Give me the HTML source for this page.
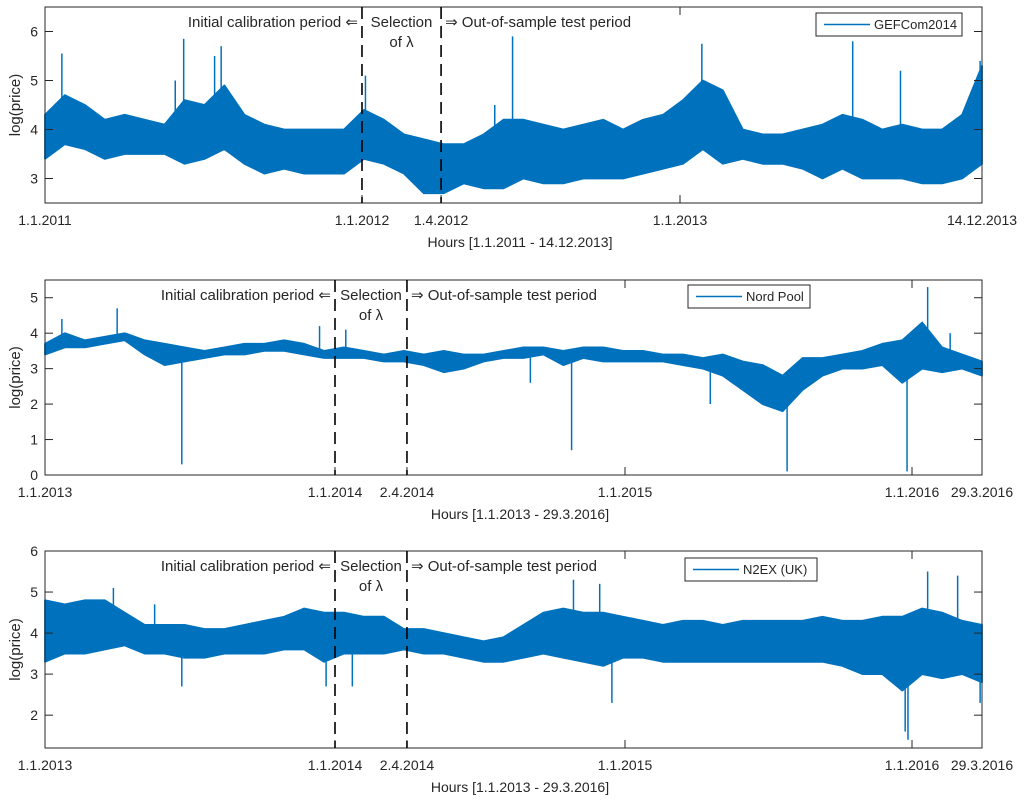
<!DOCTYPE html>
<html><head><meta charset="utf-8"><style>
body{margin:0;background:#fff;}
svg{display:block;font-family:"Liberation Sans",sans-serif;}
</style></head><body>
<svg id="c" width="1024" height="803"></svg>
<script>
// ---- data (bands sampled uniformly over each period, spikes at fraction of period) ----
const gefHi=[4.3,4.7,4.5,4.2,4.3,4.2,4.1,4.6,4.5,4.9,4.3,4.1,4.0,4.0,4.0,4.0,4.4,4.2,3.9,3.8,3.7,3.7,3.9,4.2,4.2,4.1,4.0,4.1,4.2,4.0,4.2,4.3,4.6,5.0,4.8,4.0,3.9,3.9,4.0,4.1,4.3,4.2,4.0,4.1,4.0,4.0,4.3,5.3];
const gefLo=[3.4,3.7,3.6,3.4,3.5,3.5,3.5,3.3,3.4,3.6,3.3,3.1,3.2,3.1,3.1,3.1,3.4,3.3,3.1,2.7,2.7,2.9,2.8,2.8,3.0,2.9,2.9,3.0,3.0,3.0,3.1,3.2,3.3,3.6,3.3,3.4,3.3,3.3,3.2,3.0,3.2,3.0,3.0,3.0,2.9,2.9,3.0,3.3];
const gefSpikeT=[0.018,0.148,0.139,0.188,0.181,0.342,0.48,0.499,0.701,0.862,0.913,0.998];
const gefSpikeV=[5.55,5.85,5.0,5.7,5.5,5.1,4.5,5.9,5.75,5.8,5.2,5.4];
const nordHi=[3.7,4.0,3.8,3.9,4.0,3.8,3.7,3.6,3.5,3.6,3.7,3.7,3.8,3.7,3.5,3.6,3.5,3.4,3.5,3.4,3.5,3.4,3.4,3.5,3.6,3.6,3.5,3.6,3.6,3.5,3.5,3.4,3.4,3.3,3.4,3.2,3.1,2.8,3.3,3.3,3.4,3.5,3.7,3.8,4.3,3.6,3.4,3.2];
const nordLo=[3.4,3.6,3.6,3.7,3.8,3.4,3.1,3.2,3.3,3.4,3.4,3.5,3.5,3.4,3.3,3.3,3.3,3.2,3.2,3.1,2.9,3.0,3.2,3.3,3.3,3.4,3.1,3.3,3.2,3.2,3.2,3.2,3.1,3.0,2.8,2.4,2.0,1.8,2.4,2.8,3.0,3.0,3.1,2.6,3.0,2.9,3.0,2.8];
const nordSpikeT=[0.018,0.077,0.146,0.293,0.321,0.518,0.562,0.71,0.792,0.92,0.942,0.966];
const nordSpikeV=[4.4,4.7,0.3,4.2,4.1,2.6,0.7,2.0,0.1,0.1,5.3,4.0];
const ukHi=[4.8,4.7,4.8,4.8,4.5,4.2,4.2,4.2,4.1,4.1,4.2,4.3,4.4,4.6,4.5,4.5,4.4,4.4,4.1,4.1,4.0,3.9,3.8,3.9,4.2,4.5,4.6,4.5,4.5,4.4,4.3,4.2,4.3,4.3,4.2,4.3,4.3,4.3,4.3,4.4,4.3,4.3,4.4,4.4,4.6,4.5,4.3,4.2];
const ukLo=[3.3,3.5,3.5,3.6,3.7,3.5,3.5,3.4,3.4,3.5,3.5,3.5,3.6,3.6,3.3,3.5,3.5,3.5,3.6,3.5,3.5,3.4,3.3,3.3,3.4,3.5,3.4,3.3,3.2,3.4,3.4,3.3,3.3,3.3,3.3,3.3,3.3,3.3,3.3,3.3,3.2,3.0,3.0,2.6,3.0,2.9,3.0,2.8];
const ukSpikeT=[0.073,0.117,0.146,0.3,0.328,0.564,0.592,0.605,0.918,0.921,0.942,0.974,0.998];
const ukSpikeV=[5.1,4.7,2.7,2.7,2.7,5.3,5.2,2.3,1.6,1.4,5.5,5.4,2.3];
const xt1=["1.1.2011","1.1.2012","1.4.2012","1.1.2013","14.12.2013"], xf1=[0,0.3383,0.4227,0.6777,1];
const xt2=["1.1.2013","1.1.2014","2.4.2014","1.1.2015","1.1.2016","29.3.2016"], xf2=[0,0.3095,0.3863,0.6190,0.9253,1];

const NS="http://www.w3.org/2000/svg", svg=document.getElementById('c'), BLUE="#0072BD";
function mk(tag,at,parent){const e=document.createElementNS(NS,tag);for(const k in at)e.setAttribute(k,at[k]);(parent||svg).appendChild(e);return e;}
function txt(s,x,y,anchor,size,parent){const t=mk('text',{x:x,y:y,'text-anchor':anchor||'middle','font-size':size||14,fill:'#262626'},parent);t.textContent=s;return t;}

function panel(cfg){
  const L=45,R=982,T=cfg.top,B=cfg.bot;
  const g=mk('g',{});
  
  
  const X=f=>L+f*(R-L), Y=v=>B-(v-cfg.ymin)/(cfg.ymax-cfg.ymin)*(B-T);
  const n=cfg.hi.length;let d='';
  for(let i=0;i<n;i++)d+=(i?'L':'M')+X(i/(n-1)).toFixed(1)+' '+Y(cfg.hi[i]).toFixed(1);
  for(let i=n-1;i>=0;i--)d+='L'+X(i/(n-1)).toFixed(1)+' '+Y(cfg.lo[i]).toFixed(1);
  const band=mk('path',{d:d+'Z',fill:BLUE,stroke:BLUE,'stroke-width':1.8,'stroke-linejoin':'round'},g);
  
  
  for(let i=0;i<cfg.st.length;i++){
    const j=Math.round(cfg.st[i]*(n-1)), mid=(cfg.hi[j]+cfg.lo[j])/2;
    const s=mk('line',{x1:X(cfg.st[i]),x2:X(cfg.st[i]),y1:Y(mid),y2:Y(cfg.sv[i]),stroke:BLUE,'stroke-width':1.5},g);
    
    
  }
  mk('rect',{x:L,y:T,width:R-L,height:B-T,fill:'none',stroke:'#262626','stroke-width':1},g);
  cfg.yt.forEach(v=>{const y=Y(v);mk('line',{x1:L,x2:L+8,y1:y,y2:y,stroke:'#262626'},g);mk('line',{x1:R,x2:R-8,y1:y,y2:y,stroke:'#262626'},g);
    const t=txt(String(v),L-7,y+5,'end',14,g);});
  cfg.xf.forEach((f,i)=>{const x=X(f);mk('line',{x1:x,x2:x,y1:B,y2:B-8,stroke:'#262626'},g);mk('line',{x1:x,x2:x,y1:T,y2:T+8,stroke:'#262626'},g);
    const t=txt(cfg.xt[i],x,B+22,'middle',14,g);});
  [cfg.xf[1],cfg.xf[2]].forEach(f=>{const l=mk('line',{x1:X(f),x2:X(f),y1:T,y2:B,stroke:'#000','stroke-width':1.6,'stroke-dasharray':'12,7'},g);
    });
  const a=X(cfg.xf[1]),b=X(cfg.xf[2]);
  let t=txt('Initial calibration period ⇐',a-4,T+20,'end',15,g);
  t=txt('Selection',(a+b)/2,T+20,'middle',15,g);
  t=txt('of λ',(a+b)/2,T+40,'middle',15,g);
  t=txt('⇒ Out-of-sample test period',b+4,T+20,'start',15,g);
  t=txt(cfg.xlabel,520,B+44,'middle',14,g);
  t=txt('log(price)',0,0,'middle',15,g);t.setAttribute('transform','translate(20,'+((T+B)/2)+') rotate(-90)');
  
  const lg=mk('g',{},g);
  mk('rect',{x:cfg.lx,y:T+cfg.ly,width:cfg.lw,height:23,fill:'#fff',stroke:'#262626'},lg);
  mk('line',{x1:cfg.lx+8,x2:cfg.lx+54,y1:T+cfg.ly+11.5,y2:T+cfg.ly+11.5,stroke:BLUE,'stroke-width':1.5},lg);
  t=txt(cfg.leg,cfg.lx+58,T+cfg.ly+16,'start',13,lg);
}
panel({name:'gefcom-panel',top:7,bot:203,ymin:2.5,ymax:6.5,yt:[3,4,5,6],hi:gefHi,lo:gefLo,st:gefSpikeT,sv:gefSpikeV,xt:xt1,xf:xf1,xlabel:'Hours [1.1.2011 - 14.12.2013]',lx:816,ly:6,lw:146,leg:'GEFCom2014'});
panel({name:'nordpool-panel',top:280,bot:475,ymin:0,ymax:5.5,yt:[0,1,2,3,4,5],hi:nordHi,lo:nordLo,st:nordSpikeT,sv:nordSpikeV,xt:xt2,xf:xf2,xlabel:'Hours [1.1.2013 - 29.3.2016]',lx:688,ly:5,lw:122,leg:'Nord Pool'});
panel({name:'n2ex-panel',top:551,bot:748,ymin:1.2,ymax:6,yt:[2,3,4,5,6],hi:ukHi,lo:ukLo,st:ukSpikeT,sv:ukSpikeV,xt:xt2,xf:xf2,xlabel:'Hours [1.1.2013 - 29.3.2016]',lx:685,ly:7,lw:132,leg:'N2EX (UK)'});
</script>
</body></html>
